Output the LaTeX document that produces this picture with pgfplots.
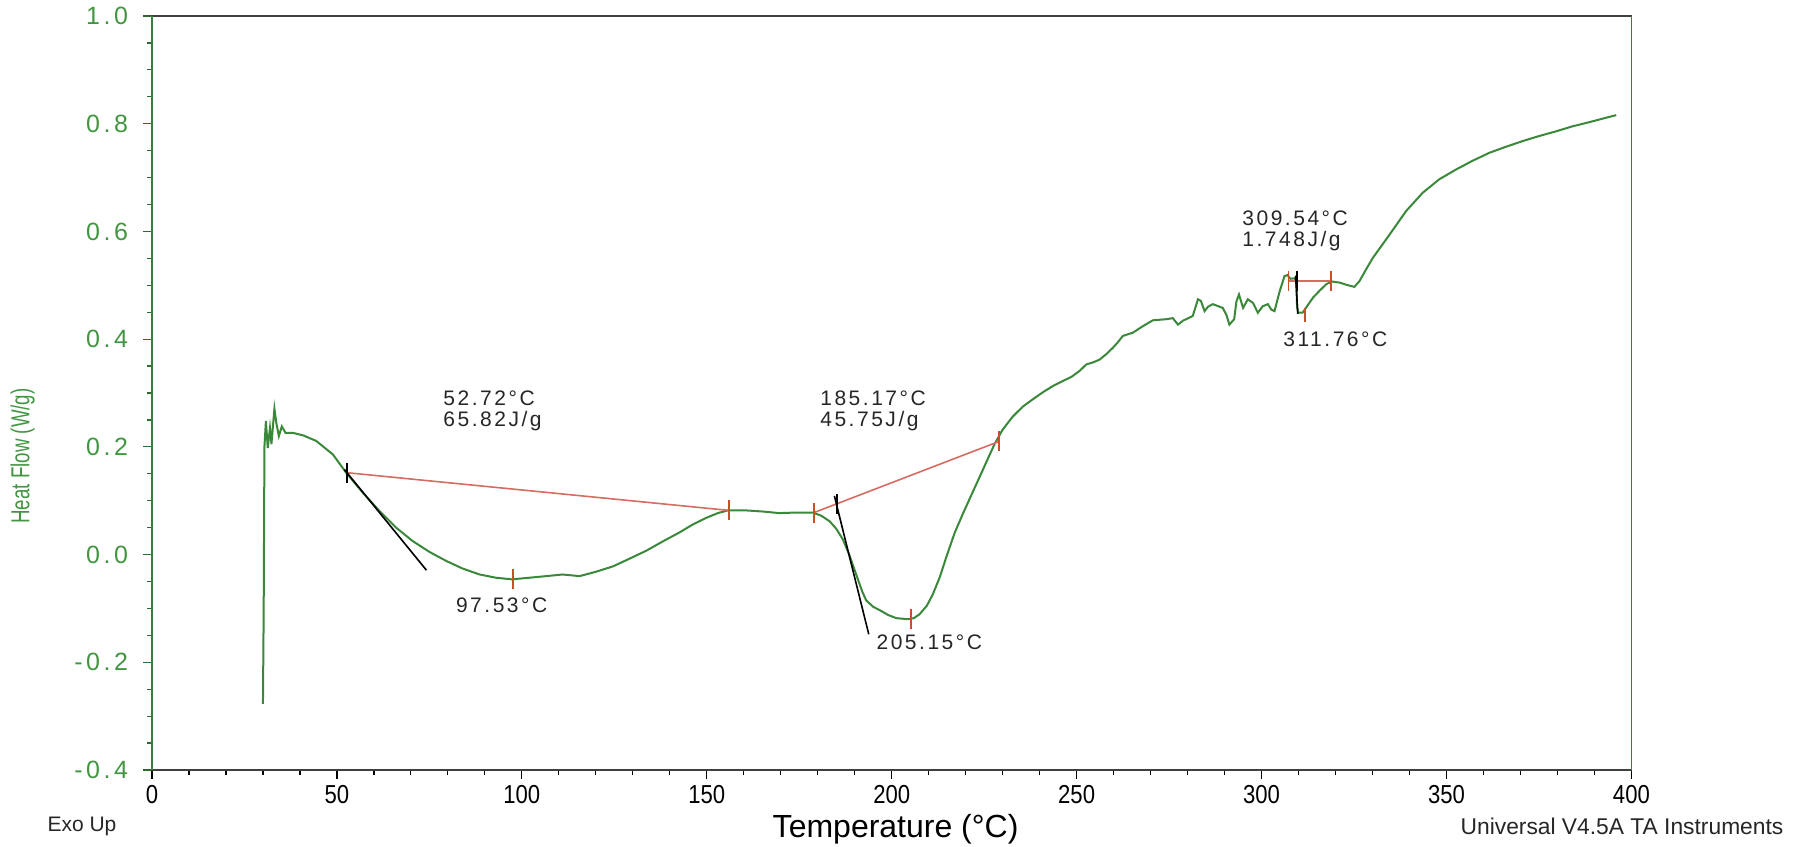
\documentclass[border=0pt]{standalone}
\usepackage{fontspec}
\setmainfont{Liberation Sans}
\newfontfamily\annfont[LetterSpace=12]{Liberation Sans}
\newfontfamily\ytfont[LetterSpace=14]{Liberation Sans}
\newfontfamily\narrowfont[FakeStretch=0.85]{Liberation Sans}
\newfontfamily\condfont[FakeStretch=0.72]{Liberation Sans}
\usepackage{pgfplots}
\pgfplotsset{compat=1.18}
\definecolor{dscgreen}{RGB}{58,136,58}
\definecolor{labgreen}{RGB}{66,150,66}
\definecolor{basered}{RGB}{212,108,98}
\definecolor{tickred}{RGB}{200,80,40}

\begin{document}
\begin{tikzpicture}
\useasboundingbox (-76pt,-38pt) rectangle (822.5pt,385pt);
\begin{axis}[
  scale only axis, width=739.7pt, height=377pt,
  xmin=0, xmax=400, ymin=-0.4, ymax=1.0,
  xtick={0,50,100,150,200,250,300,350,400},
  xticklabels={0,50,100,150,200,250,300,350,400},
  ytick={-0.4,-0.2,0,0.2,0.4,0.6,0.8,1.0},
  yticklabels={-0.4,-0.2,0.0,0.2,0.4,0.6,0.8,1.0},
  minor x tick num=4, minor y tick num=3,
  tick pos=left, tick align=outside,
  major tick length=4.5pt, minor tick length=2.5pt,
  axis line style={draw=black!75, line width=0.6pt},
  x tick style={black, line width=0.6pt},
  y tick style={labgreen!70!black, line width=0.6pt},
  xticklabel style={font=\fontsize{13}{14}\narrowfont, yshift=0.5pt},
  yticklabel style={font=\fontsize{12.5}{13}\ytfont, text=labgreen, xshift=-4pt},
  clip=false,
]
% DSC curve
\addplot[dscgreen, line width=1pt] coordinates {
(30.0,-0.277) (30.2,-0.10) (30.4,0.20) (30.8,0.248) (31.3,0.198) (31.9,0.235)
(32.3,0.205) (33.1,0.271) (33.6,0.245) (34.3,0.220) (35.1,0.238) (36.1,0.226)
(38.1,0.226) (41,0.221) (44.4,0.211) (48.9,0.186) (52.5,0.152) (57,0.115)
(61.5,0.081) (66,0.050) (70.5,0.025) (75,0.005) (79.6,-0.012) (84,-0.026)
(88.6,-0.037) (93,-0.043) (97.3,-0.046) (102,-0.043) (106.6,-0.040) (111,-0.037)
(115.6,-0.040) (120,-0.032) (124.6,-0.022) (129,-0.008) (133.6,0.007) (138,0.024)
(142.6,0.041) (146,0.055) (149.8,0.068) (153,0.077) (155.7,0.082) (160.6,0.082)
(165,0.080) (169.6,0.077) (174,0.078) (178.7,0.078) (181,0.072) (183.2,0.062)
(185,0.048) (186.8,0.028) (188.5,0.0) (190.4,-0.037) (192,-0.068) (193.1,-0.085)
(195,-0.097) (196.7,-0.103) (199,-0.112) (201.2,-0.118) (204.4,-0.120) (206,-0.118)
(207.5,-0.111) (209.5,-0.095) (211.1,-0.074) (213,-0.042) (214.7,-0.006) (217,0.040)
(219.2,0.075) (221.5,0.110) (223.7,0.143) (226,0.178) (227.8,0.205) (230,0.232)
(232.7,0.256) (235.5,0.275) (238.5,0.290) (241,0.302) (243.6,0.313) (246.2,0.322)
(248.6,0.330) (250.8,0.341) (252.6,0.353) (254.5,0.357) (256.2,0.362) (258,0.372)
(259.8,0.384) (261,0.393) (262.5,0.406) (265.2,0.412) (267.9,0.424) (270.6,0.435)
(274.2,0.437) (276,0.439) (277.4,0.427) (278.7,0.434) (281.4,0.443) (282.8,0.474)
(283.6,0.471) (284.6,0.452) (285.5,0.460) (286.8,0.465) (289.5,0.458) (290.5,0.445)
(291.3,0.427) (292.6,0.437) (293.2,0.470) (293.9,0.483) (295,0.458) (296.3,0.474)
(297.7,0.467) (299,0.449) (300.3,0.461) (301.7,0.465) (302.6,0.455) (303.5,0.452)
(304.9,0.489) (306.2,0.517) (307,0.519) (307.8,0.512) (308.8,0.513) (309.4,0.508)
(309.6,0.460) (309.9,0.449) (311.1,0.449) (312.5,0.463) (313.9,0.477) (315.7,0.490)
(317.5,0.502) (319,0.507) (321.1,0.505) (322.9,0.501) (325.1,0.497) (326.5,0.508)
(328.3,0.530) (330.1,0.551) (334.6,0.594) (339.1,0.638) (343.6,0.672) (348.1,0.697)
(352.6,0.715) (357,0.731) (361.6,0.746) (366,0.757) (370.7,0.768) (375,0.777)
(379.7,0.786) (384,0.795) (388.7,0.803) (392,0.809) (395.9,0.816)
};
% integration baselines
\addplot[basered, line width=0.8pt] coordinates {(52.72,0.152) (156,0.082)};
\addplot[basered, line width=0.8pt] coordinates {(179,0.078) (229,0.21)};
\addplot[basered, line width=0.8pt] coordinates {(307.3,0.508) (318.8,0.508)};
% onset tangents
\addplot[black, line width=0.8pt] coordinates {(52.0,0.158) (74.2,-0.029)};
\addplot[black, line width=0.8pt] coordinates {(184.5,0.109) (193.8,-0.148)};
\addplot[black, line width=0.8pt] coordinates {(309.2,0.518) (309.8,0.447)};
% limit and peak markers
\addplot[only marks, mark=|, mark size=5pt, tickred, mark options={line width=0.8pt}]
  coordinates {(156,0.082) (179,0.078) (229,0.21) (307.3,0.508) (318.8,0.508)
               (97.53,-0.046) (205.15,-0.120)};
\addplot[only marks, mark=|, mark size=3.5pt, tickred, mark options={line width=0.8pt}]
  coordinates {(311.76,0.445)};
\addplot[only marks, mark=|, mark size=5pt, black, mark options={line width=0.8pt}]
  coordinates {(52.72,0.152) (185.17,0.094) (309.54,0.508)};
% annotations
\begin{scope}[every node/.style={anchor=west, inner sep=0pt, font=\fontsize{10.5}{12}\annfont, text=black!85}]
\node at (axis cs:78.7,0.291) {52.72°C};
\node at (axis cs:78.7,0.248) {65.82J/g};
\node at (axis cs:82.1,-0.094) {97.53°C};
\node at (axis cs:180.6,0.291) {185.17°C};
\node at (axis cs:180.6,0.248) {45.75J/g};
\node at (axis cs:195.8,-0.162) {205.15°C};
\node at (axis cs:294.7,0.625) {309.54°C};
\node at (axis cs:294.7,0.582) {1.748J/g};
\node at (axis cs:305.8,0.400) {311.76°C};
\end{scope}
\end{axis}
\draw[labgreen!85!black, line width=0.7pt] (0,0) -- (0,377pt);
\draw[labgreen!85!black, line width=0.7pt] (739.7pt,0) -- (739.7pt,377pt);
\node[rotate=90, text=labgreen, font=\fontsize{13}{14}\condfont] at (-64.7pt,157pt) {Heat Flow (W/g)};
\node[font=\fontsize{10.5}{12}\selectfont, text=black!85] at (-35pt,-28pt) {Exo Up};
\node[font=\fontsize{16}{18}\selectfont, inner sep=1pt] at (371.8pt,-29.5pt) {Temperature (°C)};
\node[font=\fontsize{11.4}{12}\selectfont, text=black!85] at (735pt,-28pt) {Universal V4.5A TA Instruments};
\end{tikzpicture}
\end{document}
